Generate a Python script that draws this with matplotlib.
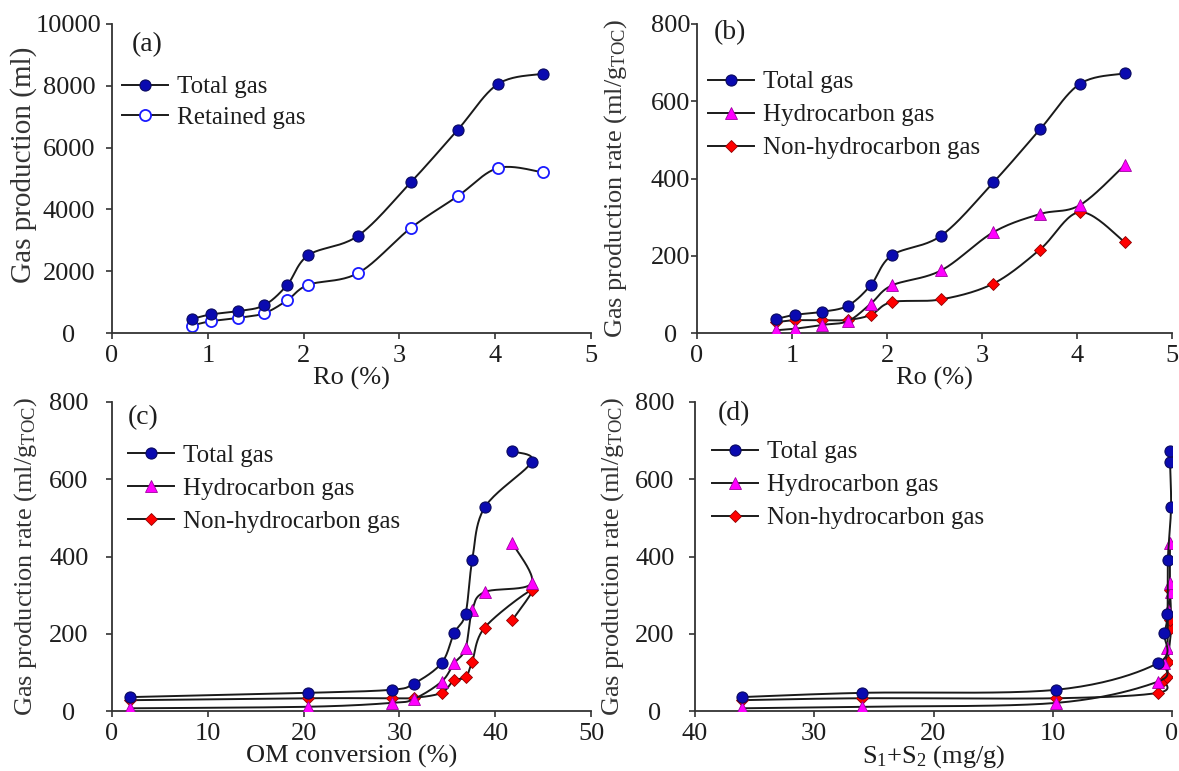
import numpy as np
import matplotlib
matplotlib.use('Agg')
import matplotlib.pyplot as plt

plt.rcParams['font.family'] = ['Liberation Serif', 'DejaVu Serif']
plt.rcParams['mathtext.fontset'] = 'custom'
plt.rcParams['mathtext.rm'] = 'Liberation Serif'
plt.rcParams['mathtext.it'] = 'Liberation Serif:italic'

# Measured data
ro = [0.83, 1.03, 1.32, 1.59, 1.83, 2.05, 2.57, 3.12, 3.61, 4.03, 4.50]
total_ml = [450, 600, 710, 900, 1560, 2520, 3150, 4880, 6580, 8060, 8390]
retained_ml = [240, 380, 490, 640, 1060, 1560, 1940, 3400, 4430, 5340, 5200]

total_rate = [36, 47, 55, 71, 124, 201, 252, 390, 527, 645, 672]
hc_rate = [7, 11, 21, 31, 76, 123, 162, 261, 308, 331, 434]
nonhc_rate = [28, 33, 33, 34, 47, 80, 87, 128, 216, 313, 236]

om_conversion = [1.9, 20.5, 29.2, 31.5, 34.4, 35.7, 36.9, 37.6, 38.9, 43.8, 41.8]
s1s2 = [36.1, 26.0, 9.7, np.nan, 1.18, 0.64, 0.38, 0.35, 0.08, 0.17, 0.17]

LINE = '#1a1a1a'
TXT = '#1e1e1e'
TICK_FS = 19
LABEL_FS = 19
LEG_FS = 18

series_style = {
    'Total gas': dict(marker='o', ms=8, mfc='#0a0ab0', mec='#0a0a60', mew=0.8),
    'Retained gas': dict(marker='o', ms=8, mfc='white', mec='#1a1aff', mew=1.3),
    'Hydrocarbon gas': dict(marker='^', ms=8, mfc='#ff00ff', mec='#a000a0', mew=0.6),
    'Non-hydrocarbon gas': dict(marker='D', ms=6, mfc='#ff0000', mec='#900000', mew=0.6),
}


def smooth_curve(ax, x, y, n=24):
    # Bezier smoothing (Catmull-Rom control points) done in display space
    x = np.asarray(x, float)
    y = np.asarray(y, float)
    keep = ~(np.isnan(x) | np.isnan(y))
    pts = ax.transData.transform(np.column_stack([x[keep], y[keep]]))
    p = np.vstack([pts[0], pts, pts[-1]])
    t = np.linspace(0, 1, n)[:, None]
    segs = []
    for i in range(1, len(p) - 2):
        p0, p1, p2, p3 = p[i - 1], p[i], p[i + 1], p[i + 2]
        c1 = p1 + (p2 - p0) / 6.0
        c2 = p2 - (p3 - p1) / 6.0
        segs.append((1 - t) ** 3 * p1 + 3 * (1 - t) ** 2 * t * c1
                    + 3 * (1 - t) * t ** 2 * c2 + t ** 3 * p2)
    curve = ax.transData.inverted().transform(np.vstack(segs))
    return curve[:, 0], curve[:, 1], x[keep], y[keep]


def draw_series(ax, x, y, name, zorder):
    cx, cy, px, py = smooth_curve(ax, x, y)
    ax.plot(cx, cy, color=LINE, lw=1.4, zorder=zorder)
    ax.plot(px, py, ls='none', zorder=zorder + 0.5, **series_style[name])
    # legend proxy: line with marker
    ax.plot([], [], color=LINE, lw=1.4, label=name, **series_style[name])


def style_axes(ax, ylab_pad):
    for side in ['top', 'right']:
        ax.spines[side].set_visible(False)
    for side in ['left', 'bottom']:
        ax.spines[side].set_color('#333333')
        ax.spines[side].set_linewidth(1.3)
    ax.tick_params(direction='out', length=4, width=1.2, color='#333333',
                   labelsize=TICK_FS, labelcolor=TXT)
    ax.tick_params(axis='x', pad=5)
    ax.tick_params(axis='y', pad=ylab_pad)
    for lab in ax.get_yticklabels():
        lab.set_ha('center')


fig = plt.figure(figsize=(11.79, 7.71), dpi=100)
W, H = 1179.0, 771.0


def add_axes(left, right, top, bottom):
    return fig.add_axes([left / W, 1 - bottom / H, (right - left) / W, (bottom - top) / H])


ax_a = add_axes(112, 591, 24, 333)
ax_b = add_axes(697, 1172, 24, 333)
ax_c = add_axes(112, 591, 402, 711)
ax_d = add_axes(695, 1172, 402, 711)

rate_label = r'Gas production rate (ml/g$_{\mathrm{TOC}}$)'

# (a) cumulative gas volume vs Ro
ax_a.set_xlim(0, 5)
ax_a.set_ylim(0, 10000)
ax_a.set_xticks(range(0, 6))
ax_a.set_yticks(range(0, 10001, 2000))
draw_series(ax_a, ro, total_ml, 'Total gas', 3)
draw_series(ax_a, ro, retained_ml, 'Retained gas', 2)
ax_a.set_xlabel('Ro (%)')
ax_a.set_ylabel('Gas production (ml)')

# (b) gas rates vs Ro
ax_b.set_xlim(0, 5)
ax_b.set_ylim(0, 800)
ax_b.set_xticks(range(0, 6))
ax_b.set_yticks(range(0, 801, 200))
draw_series(ax_b, ro, total_rate, 'Total gas', 4)
draw_series(ax_b, ro, hc_rate, 'Hydrocarbon gas', 3)
draw_series(ax_b, ro, nonhc_rate, 'Non-hydrocarbon gas', 2)
ax_b.set_xlabel('Ro (%)')
ax_b.set_ylabel(rate_label)

# (c) gas rates vs OM conversion
ax_c.set_xlim(0, 50)
ax_c.set_ylim(0, 800)
ax_c.set_xticks(range(0, 51, 10))
ax_c.set_yticks(range(0, 801, 200))
draw_series(ax_c, om_conversion, total_rate, 'Total gas', 4)
draw_series(ax_c, om_conversion, hc_rate, 'Hydrocarbon gas', 3)
draw_series(ax_c, om_conversion, nonhc_rate, 'Non-hydrocarbon gas', 2)
ax_c.set_xlabel('OM conversion (%)')
ax_c.set_ylabel(rate_label)

# (d) gas rates vs residual S1+S2 (reversed axis)
ax_d.set_xlim(40, 0)
ax_d.set_ylim(0, 800)
ax_d.set_xticks(range(40, -1, -10))
ax_d.set_yticks(range(0, 801, 200))
draw_series(ax_d, s1s2, total_rate, 'Total gas', 4)
draw_series(ax_d, s1s2, hc_rate, 'Hydrocarbon gas', 3)
draw_series(ax_d, s1s2, nonhc_rate, 'Non-hydrocarbon gas', 2)
ax_d.set_xlabel(r'S$_1$+S$_2$ (mg/g)')
ax_d.set_ylabel(rate_label)

# per-panel layout: (axes, tag, tag pos, y tick pad, ylabel pos, legend anchor, legend spacing)
panels = [
    (ax_a, '(a)', (0.073, 0.932), 27, (-0.184, 0.545), (0.021, 0.832), 0.32),
    (ax_b, '(b)', (0.069, 0.971), 15, (-0.172, 0.5), (0.023, 0.848), 0.42),
    (ax_c, '(c)', (0.066, 0.951), 27, (-0.180, 0.5), (0.033, 0.864), 0.42),
    (ax_d, '(d)', (0.082, 0.964), 25, (-0.172, 0.5), (0.036, 0.874), 0.42),
]

for ax, tag, tag_xy, ypad, ylab_xy, leg_xy, spacing in panels:
    style_axes(ax, ypad)
    ax.xaxis.label.set_size(LABEL_FS)
    ax.yaxis.label.set_size(LABEL_FS)
    ax.xaxis.label.set_color(TXT)
    ax.yaxis.label.set_color('#333333')
    ax.xaxis.set_label_coords(0.5, -0.148)
    ax.xaxis.label.set_va('center')
    ax.yaxis.set_label_coords(*ylab_xy)
    ax.yaxis.label.set_va('center')
    ax.text(tag_xy[0], tag_xy[1], tag, transform=ax.transAxes, fontsize=LABEL_FS + 1,
            color=TXT, ha='center', va='center')
    ax.legend(loc='upper left', bbox_to_anchor=leg_xy, frameon=False, fontsize=LEG_FS,
              handlelength=1.85, handletextpad=0.35, labelspacing=spacing,
              borderpad=0, borderaxespad=0, numpoints=1, labelcolor=TXT)

# the volume label is set a little larger
ax_a.yaxis.label.set_size(LABEL_FS + 2)

fig.savefig('out.png', dpi=100)
